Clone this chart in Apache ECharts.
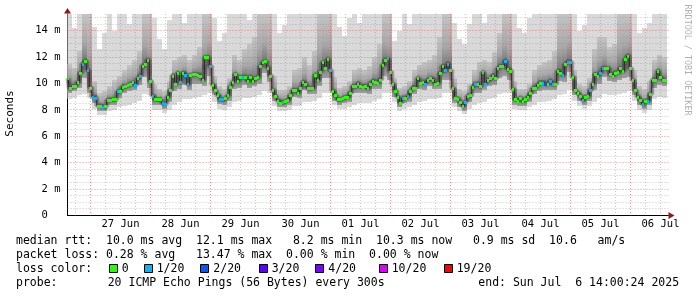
<!DOCTYPE html>
<html><head><meta charset="utf-8">
<script src="https://cdn.jsdelivr.net/npm/echarts@6/dist/echarts.min.js"></script>
<style>html,body{margin:0;padding:0;background:#fff}#c{width:697px;height:297px}</style>
</head><body><div id="c"></div>
<script>
// ---- time axis (hours relative to 27 Jun 00:00) ----
const axisStartHour = -9.2;
const axisEndHour = 231.2;
const dayLabelHours = [12, 36, 60, 84, 108, 132, 156, 180, 204, 228];
const dayLabels = ['27 Jun', '28 Jun', '29 Jun', '30 Jun', '01 Jul', '02 Jul', '03 Jul', '04 Jul', '05 Jul', '06 Jul'];
// ---- y axis (milliseconds) ----
const yAxisMax = 15.27;
const yTickValues = [0, 2, 4, 6, 8, 10, 12, 14];
const yTickLabels = ['0  ', '2 m', '4 m', '6 m', '8 m', '10 m', '12 m', '14 m'];

// ---- median RTT, hourly, first sample at hour -9 ----
const firstHour = -9;
const medianMs = [
  10.4, 9.64, 9.8, 9.8, 10.1, 10.8, 11.5, 11.7, 11.0, 9.7,
  9.0, 8.9, 8.33, 8.3, 8.2, 8.3, 8.76, 8.76, 8.8, 8.8,
  9.4, 9.46, 9.77, 9.8, 9.9, 10.0, 10.1, 9.9, 10.4, 10.6,
  11.36, 11.5, 11.8, 10.2, 9.06, 8.8, 8.8, 8.8, 8.5, 8.45,
  9.0, 9.5, 10.6, 9.97, 10.8, 10.1, 10.8, 10.65, 9.97, 10.65,
  10.7, 10.7, 10.65, 10.6, 10.27, 12.0, 12.0, 11.33, 9.9, 9.5,
  9.1, 8.8, 8.8, 8.9, 9.1, 9.77, 10.1, 10.7, 10.2, 10.48,
  10.5, 10.5, 10.2, 10.5, 10.2, 10.4, 10.5, 11.3, 11.6, 11.7,
  11.2, 10.6, 9.5, 9.06, 8.7, 8.55, 8.6, 8.7, 8.76, 9.1,
  9.5, 9.5, 9.3, 9.64, 10.1, 9.97, 9.64, 9.64, 9.64, 10.65,
  10.27, 10.9, 11.6, 11.2, 11.84, 11.0, 9.46, 9.1, 8.8, 8.8,
  8.9, 9.0, 9.0, 9.3, 9.8, 9.8, 10.0, 9.8, 9.77, 9.85,
  9.64, 10.0, 10.2, 10.1, 10.07, 10.3, 11.4, 11.8, 11.9, 10.9,
  9.97, 9.46, 9.0, 8.55, 8.9, 8.9, 9.06, 9.44, 9.7, 9.7,
  10.4, 10.07, 10.14, 10.0, 10.27, 10.4, 10.3, 10.0, 10.07, 10.8,
  11.33, 11.0, 11.5, 11.0, 9.64, 8.9, 8.8, 8.6, 8.3, 8.6,
  9.06, 9.1, 9.77, 9.97, 10.0, 9.8, 10.85, 10.0, 10.27, 10.4,
  10.6, 10.4, 11.15, 11.33, 11.33, 11.7, 11.08, 10.95, 9.6, 8.8,
  8.7, 8.9, 8.7, 8.8, 9.0, 9.26, 9.64, 9.7, 9.9, 10.07,
  10.07, 9.97, 10.0, 10.2, 9.97, 9.97, 10.95, 10.83, 10.65, 11.48,
  11.66, 11.66, 10.5, 9.5, 9.26, 9.06, 8.76, 9.0, 9.06, 9.5,
  10.0, 10.7, 10.6, 10.83, 11.15, 11.15, 11.15, 10.7, 10.6, 10.83,
  10.9, 11.15, 10.95, 11.84, 12.1, 11.15, 10.27, 9.5, 9.0, 8.76,
  8.45, 8.7, 8.7, 9.2, 10.27, 10.3, 10.95, 10.5, 10.27, 10.3
];
// ---- hours with packet loss (level = index into lossColors) ----
const lossEventHours = [-3, -1, 1, 2, 5, 11, 18, 20, 25, 29, 30, 36, 38, 39, 48, 52, 53, 61, 77, 96, 119, 125, 127, 134, 142, 143, 150, 154, 158, 166, 181, 182, 184, 185, 189, 191, 192, 197, 200, 204, 205, 221, 223];
const lossEventLevels = [1, 1, 1, 1, 1, 1, 1, 1, 1, 1, 1, 1, 1, 1, 1, 1, 1, 1, 1, 1, 1, 1, 1, 1, 1, 1, 1, 1, 1, 1, 1, 2, 1, 1, 1, 1, 1, 1, 1, 1, 1, 1, 1];

// ---- smoke (ping spread), 2-hour windows, first centre at hour -8.5 ----
const smokeFirstHour = -8.5;
const smokeLow = [
  8.8, 8.9, 9.1, 9.2, 8.9, 8.1, 7.6, 7.6, 7.9, 8.0,
  8.2, 8.3, 8.4, 8.5, 8.7, 9.2, 9.1, 8.0, 8.0, 7.8,
  8.0, 8.4, 8.6, 8.8, 8.8, 8.9, 9.0, 9.1, 9.3, 8.6,
  8.1, 8.0, 8.2, 8.6, 8.7, 8.9, 8.9, 9.0, 9.1, 9.4,
  9.3, 8.3, 7.9, 7.9, 8.0, 8.3, 8.3, 8.6, 8.6, 8.7,
  8.9, 9.3, 9.3, 8.4, 8.1, 8.1, 8.2, 8.4, 8.5, 8.5,
  8.5, 8.7, 8.8, 9.3, 9.3, 8.6, 7.9, 8.1, 8.2, 8.4,
  8.6, 8.7, 8.8, 8.8, 8.9, 9.3, 9.3, 8.2, 7.9, 7.7,
  8.1, 8.4, 8.5, 8.6, 8.8, 8.9, 9.2, 9.3, 9.3, 8.1,
  8.0, 8.0, 8.2, 8.4, 8.6, 8.6, 8.7, 8.8, 9.1, 9.2,
  9.5, 8.7, 8.3, 8.1, 8.3, 8.6, 8.9, 9.2, 9.1, 9.1,
  9.2, 9.3, 9.4, 8.7, 8.0, 7.8, 8.0, 8.8, 9.0, 8.9
];
const smokeMidLow = [
  9.3, 9.4, 9.7, 10.4, 9.3, 8.5, 7.95, 7.9, 8.35, 8.4,
  8.9, 9.3, 9.45, 9.5, 9.9, 10.5, 9.7, 8.4, 8.4, 8.1,
  8.6, 9.4, 9.6, 9.9, 9.5, 10.0, 10.0, 9.8, 10.6, 9.1,
  8.45, 8.4, 8.7, 9.6, 9.7, 9.9, 9.7, 9.8, 10.0, 10.8,
  10.1, 8.7, 8.2, 8.25, 8.4, 9.0, 8.9, 9.5, 9.2, 9.2,
  9.8, 10.4, 10.4, 8.7, 8.4, 8.5, 8.6, 9.3, 9.3, 9.3,
  9.2, 9.6, 9.6, 10.6, 10.3, 9.0, 8.2, 8.5, 8.6, 9.2,
  9.6, 9.5, 9.8, 9.6, 9.6, 10.3, 10.3, 8.5, 8.25, 7.95,
  8.6, 9.3, 9.3, 9.5, 9.8, 9.9, 10.4, 10.6, 10.3, 8.4,
  8.3, 8.3, 8.6, 9.2, 9.4, 9.5, 9.5, 9.5, 10.2, 10.1,
  10.9, 9.1, 8.7, 8.4, 8.7, 9.5, 10.0, 10.5, 10.2, 10.1,
  10.3, 10.4, 10.5, 9.1, 8.4, 8.1, 8.35, 9.7, 9.9, 9.8
];
const smokeMidHigh = [
  11.5, 11.2, 12.5, 15.27, 15.27, 10.2, 9.3, 9.4, 9.8, 10.3,
  10.6, 11.0, 11.4, 11.8, 12.5, 15.27, 15.27, 10.0, 9.6, 9.4,
  10.2, 11.8, 12.0, 12.2, 11.8, 12.2, 12.8, 15.27, 15.27, 10.6,
  9.8, 9.6, 10.4, 12.2, 11.8, 12.6, 13.0, 13.5, 15.27, 15.27,
  15.27, 10.6, 9.5, 9.5, 9.8, 11.0, 11.2, 12.0, 11.4, 12.5,
  15.27, 15.27, 15.27, 10.5, 9.7, 9.8, 10.2, 11.0, 11.2, 11.0,
  11.3, 12.0, 13.0, 15.27, 15.27, 10.4, 9.7, 9.8, 10.2, 11.0,
  11.4, 11.6, 11.8, 12.2, 13.5, 15.27, 15.27, 10.4, 9.6, 9.4,
  10.0, 11.0, 11.6, 11.8, 11.6, 12.4, 13.8, 15.27, 15.27, 10.2,
  9.6, 9.6, 10.0, 11.0, 11.4, 11.6, 11.8, 12.5, 15.27, 15.27,
  15.27, 11.0, 10.0, 9.8, 10.4, 12.6, 13.5, 13.5, 12.8, 13.0,
  15.27, 15.27, 15.27, 11.0, 9.8, 9.6, 10.2, 11.8, 12.2, 12.0
];
const smokeTop = [
  15.27, 14.2, 15.27, 15.27, 15.27, 14.3, 12.6, 13.8, 15.27, 14.0,
  15.27, 15.27, 14.5, 15.27, 15.27, 15.27, 15.27, 15.0, 13.4, 12.6,
  14.8, 15.27, 15.27, 14.6, 15.27, 15.27, 15.27, 15.27, 15.27, 15.0,
  13.2, 13.8, 15.27, 15.27, 15.27, 15.27, 14.8, 15.27, 15.27, 15.27,
  15.27, 15.27, 13.8, 14.4, 15.27, 15.27, 15.27, 15.27, 15.27, 15.27,
  15.27, 15.27, 15.27, 15.27, 14.3, 13.6, 15.0, 15.27, 14.6, 15.27,
  15.27, 15.27, 15.27, 15.27, 15.27, 13.2, 14.0, 15.27, 14.5, 15.27,
  15.27, 15.27, 15.27, 15.27, 15.27, 15.27, 15.27, 14.6, 13.4, 13.0,
  14.5, 15.27, 15.27, 14.6, 15.27, 15.27, 15.27, 15.27, 15.27, 15.27,
  14.2, 13.8, 15.0, 15.27, 15.27, 15.27, 15.27, 15.27, 15.27, 15.27,
  15.27, 15.27, 14.0, 14.4, 15.27, 15.27, 15.27, 15.27, 15.27, 15.27,
  15.27, 15.27, 15.27, 15.27, 13.8, 14.2, 14.6, 15.27, 15.27, 15.27
];

// ---- legend / statistics text ----
const lossColors = ['#26ff00', '#00b8ff', '#0059ff', '#5e00ff', '#7e00ff', '#dd00ff', '#ff0000'];
const lossLabels = ['0', '1/20', '2/20', '3/20', '4/20', '10/20', '19/20'];
const lossLabelX = [121.7, 156.7, 213.3, 271.7, 328.3, 391.7, 456.7];
const statsLine1 = 'median rtt:  10.0 ms avg  12.1 ms max   8.2 ms min  10.3 ms now   0.9 ms sd  10.6   am/s';
const statsLine2 = 'packet loss: 0.28 % avg   13.47 % max  0.00 % min  0.00 % now';
const lossTitle = 'loss color:';
const probeTitle = 'probe:';
const probeText = '20 ICMP Echo Pings (56 Bytes) every 300s';
const endText = 'end: Sun Jul  6 14:00:24 2025';
const yTitle = 'Seconds';
const watermark = 'RRDTOOL / TOBI OETIKER';

// ---------- build ----------
const MONO = '"DejaVu Sans Mono", "Liberation Mono", monospace';
const lossByHour = {};
lossEventHours.forEach((h, i) => { lossByHour[h] = lossEventLevels[i]; });
const medianData = medianMs.map((m, i) => [firstHour + i, m]);
const squareData = medianMs.map((m, i) => [firstHour + i, m, lossByHour[firstHour + i] || 0]);
const smokeData = smokeLow.map((lo, k) => [
  smokeFirstHour + 2 * k, lo, smokeMidLow[k], smokeMidHigh[k], smokeTop[k],
  (medianMs[2 * k] + medianMs[2 * k + 1]) / 2
]);
const xGrid = [];
for (let h = -6; h <= 228; h += 6) xGrid.push([h]);
const yGrid = [];
for (let v = 0.5; v <= 15; v += 0.5) yGrid.push([v]);

function clipTo(params, r) {
  const cs = params.coordSys;
  return echarts.graphic.clipRectByRect(r, { x: cs.x, y: cs.y, width: cs.width, height: cs.height });
}
function bandRect(params, api, h, lo, hi) {
  const a = api.coord([h - 1, hi]);
  const b = api.coord([h + 1, lo]);
  const x1 = Math.round(a[0]), x2 = Math.round(b[0]);
  const y1 = Math.round(a[1]), y2 = Math.round(b[1]);
  return clipTo(params, { x: x1, y: y1, width: x2 - x1, height: y2 - y1 });
}

const MINOR = 'rgba(130,130,130,0.45)';
const MAJOR = 'rgba(230,70,70,0.6)';

const chart = echarts.init(document.getElementById('c'), null, { renderer: 'canvas' });
chart.setOption({
  animation: false,
  backgroundColor: '#fff',
  grid: { left: 67.5, right: 28.5, top: 14, bottom: 81.5, containLabel: false },
  xAxis: {
    type: 'value', min: axisStartHour, max: axisEndHour,
    splitLine: { show: false }, axisTick: { show: false },
    axisLine: { show: true, onZero: false, lineStyle: { color: '#000', width: 1 } },
    axisLabel: {
      customValues: dayLabelHours,
      formatter: v => { const i = dayLabelHours.indexOf(v); return i >= 0 ? dayLabels[i] : ''; },
      fontFamily: MONO, fontSize: 10.5, color: '#000', margin: 3
    }
  },
  yAxis: {
    type: 'value', min: 0, max: yAxisMax,
    splitLine: { show: false }, axisTick: { show: false },
    axisLine: { show: true, onZero: false, lineStyle: { color: '#000', width: 1 } },
    axisLabel: {
      customValues: yTickValues,
      formatter: v => { const i = yTickValues.indexOf(v); return i >= 0 ? yTickLabels[i] : ''; },
      fontFamily: MONO, fontSize: 10.5, color: '#000', margin: 7
    }
  },
  series: [
    { // smoke
      type: 'custom', z: 1, silent: true,
      data: smokeData,
      encode: { x: 0, y: [1, 4] },
      renderItem(params, api) {
        const h = api.value(0), lo = api.value(1), ml = api.value(2), mh = api.value(3), top = api.value(4), med = api.value(5);
        const children = [];
        const r1 = bandRect(params, api, h, lo, top);
        if (r1) children.push({ type: 'rect', shape: r1, style: { fill: '#d9d9d9' } });
        const r2 = bandRect(params, api, h, ml, mh);
        if (r2) {
          let f = (mh - med) / (mh - ml);
          f = Math.max(0.05, Math.min(0.95, f));
          children.push({ type: 'rect', shape: r2, style: {
            fill: new echarts.graphic.LinearGradient(0, 0, 0, 1, [
              { offset: 0, color: '#c4c4c4' },
              { offset: f * 0.6, color: '#a8a8a8' },
              { offset: f, color: '#747474' },
              { offset: 1, color: '#a0a0a0' }
            ])
          } });
        }
        return { type: 'group', children };
      }
    },
    { // dark core around median
      type: 'line', z: 2, silent: true, data: medianData, step: 'middle',
      showSymbol: false, lineStyle: { color: 'rgba(30,30,30,0.32)', width: 5 }
    },
    { // vertical grid
      type: 'custom', z: 3, silent: true, data: xGrid, encode: { x: 0 },
      renderItem(params, api) {
        const cs = params.coordSys;
        const h = api.value(0);
        const px = Math.floor(api.coord([h, 0])[0]) + 0.5;
        return { type: 'line', shape: { x1: px, y1: cs.y, x2: px, y2: cs.y + cs.height },
          style: { stroke: (h % 24 === 0) ? MAJOR : MINOR, lineWidth: 1, lineDash: [1, 2] } };
      }
    },
    { // horizontal grid
      type: 'custom', z: 3, silent: true, data: yGrid, encode: { y: 0 },
      renderItem(params, api) {
        const cs = params.coordSys;
        const v = api.value(0);
        const py = Math.floor(api.coord([0, v])[1]) + 0.5;
        return { type: 'line', shape: { x1: cs.x, y1: py, x2: cs.x + cs.width, y2: py },
          style: { stroke: (v % 2 === 0) ? MAJOR : MINOR, lineWidth: 1, lineDash: [1, 2] } };
      }
    },
    { // median connector line
      type: 'line', z: 4, silent: true, data: medianData, step: 'middle',
      showSymbol: false, lineStyle: { color: '#202020', width: 1 }
    },
    { // median, coloured by packet loss
      type: 'custom', z: 5, silent: true, data: squareData, encode: { x: 0, y: 1 },
      renderItem(params, api) {
        const h = api.value(0), m = api.value(1), lvl = api.value(2);
        const a = api.coord([h - 0.5, m]), b = api.coord([h + 0.5, m]);
        const x1 = Math.round(a[0]), x2 = Math.round(b[0]);
        const yc = Math.round(a[1]);
        const r = clipTo(params, { x: x1, y: yc - 1, width: x2 - x1, height: 3 });
        if (!r) return null;
        return { type: 'rect', shape: r, style: { fill: lossColors[lvl] } };
      }
    }
  ],
  graphic: [
    { type: 'polygon', shape: { points: [[64, 13.5], [71, 13.5], [67.5, 8]] }, style: { fill: '#8e1b1b' }, z: 10 },
    { type: 'polygon', shape: { points: [[668.5, 212], [668.5, 219], [674.5, 215.5]] }, style: { fill: '#8e1b1b' }, z: 10 },
    { type: 'text', x: 10.5, y: 113.5, rotation: Math.PI / 2,
      style: { text: yTitle, font: '11px ' + MONO, fill: '#000', align: 'center', verticalAlign: 'middle' } },
    { type: 'text', x: 687, y: 60, rotation: -Math.PI / 2,
      style: { text: watermark, font: '8.4px ' + MONO, fill: '#b0b0b0', align: 'center', verticalAlign: 'middle' } },
    { type: 'text', x: 16, y: 241, style: { text: statsLine1, font: '11.5px ' + MONO, fill: '#000', verticalAlign: 'middle' } },
    { type: 'text', x: 16, y: 255, style: { text: statsLine2, font: '11.5px ' + MONO, fill: '#000', verticalAlign: 'middle' } },
    { type: 'text', x: 16, y: 269, style: { text: lossTitle, font: '11.5px ' + MONO, fill: '#000', verticalAlign: 'middle' } },
    ...lossLabels.map((t, i) => ({ type: 'text', x: lossLabelX[i], y: 269,
      style: { text: t, font: '11.5px ' + MONO, fill: '#000', verticalAlign: 'middle' } })),
    ...lossColors.map((c, i) => ({ type: 'rect', shape: { x: Math.round(lossLabelX[i]) - 12.5, y: 264.5, width: 8, height: 8 },
      style: { fill: c, stroke: '#000', lineWidth: 1 } })),
    { type: 'text', x: 16, y: 283, style: { text: probeTitle, font: '11.5px ' + MONO, fill: '#000', verticalAlign: 'middle' } },
    { type: 'text', x: 107.7, y: 283, style: { text: probeText, font: '11.5px ' + MONO, fill: '#000', verticalAlign: 'middle' } },
    { type: 'text', x: 478.3, y: 283, style: { text: endText, font: '11.5px ' + MONO, fill: '#000', verticalAlign: 'middle' } }
  ]
});
</script>
</body></html>
